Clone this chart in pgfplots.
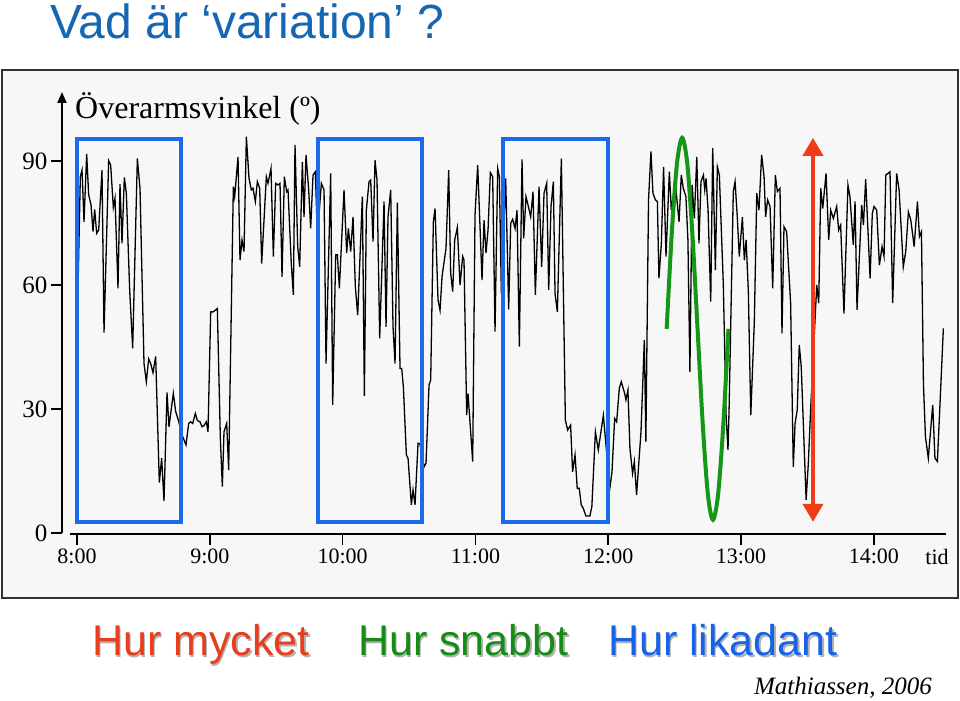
\documentclass[border=0pt]{standalone}
\usepackage{fontspec}
\setmainfont{Liberation Serif}
\newfontfamily\arialfont{Liberation Sans}
\usepackage{pgfplots}
\pgfplotsset{compat=1.18}
\usetikzlibrary{arrows.meta}
\definecolor{ttlblue}{RGB}{22,102,178}
\definecolor{boxblue}{RGB}{26,106,238}
\definecolor{grn}{RGB}{22,150,22}
\definecolor{redc}{RGB}{240,60,24}
\definecolor{bg}{RGB}{247,247,247}
\definecolor{txtred}{RGB}{232,62,28}
\definecolor{txtgreen}{RGB}{22,140,22}
\definecolor{txtblue}{RGB}{24,98,232}
\begin{document}
\begin{tikzpicture}[x=1bp,y=1bp]
\useasboundingbox (0,0) rectangle (960,701);
\draw[line width=2bp, draw=black!80, fill=bg] (2,103) rectangle (958,631);
\node[anchor=base west, inner sep=0, text=ttlblue, font=\arialfont\fontsize{48bp}{50bp}\selectfont] at (50,662) {Vad är ‘variation’ ?};
\begin{axis}[
  at={(62bp,167bp)}, anchor=south west, scale only axis,
  width=884bp, height=442bp,
  xmin=-6.78, xmax=392.6, ymin=-0.24, ymax=106.7,
  axis lines=left, axis line style={draw=none},
  clip=false,
  xtick={0,60,120,180,240,300,360},
  xticklabels={8:00,9:00,10:00,11:00,12:00,13:00,14:00},
  ytick={0,30,60,90},
  tick align=outside,
  major tick length=11bp,
  tick style={black, line width=1.5bp},
  /pgf/number format/assume math mode=true,
  xticklabel style={font=\fontsize{22bp}{24bp}\selectfont},
  yticklabel style={font=\fontsize{25bp}{27bp}\selectfont},
]
\addplot[black, line width=1.3bp] coordinates {
(0.3,55) (1.5,86.2) (2.26,87.8) (3.16,75.3) (4.37,91.7) (5.27,81.8) (6.33,79.4) (7.23,72.9) (7.98,78.3) (8.88,72.5)
(9.79,73.3) (11.29,87.8) (12.2,48.5) (14.3,90.1) (15.21,89.0) (16.41,78.8) (17.17,81.0) (18.52,59.2) (19.42,84.4) (20.33,70.1)
(21.38,86.0) (22.29,82.2) (23.79,58.8) (25.15,44.7) (27.26,90.6) (28.46,83.4) (30.27,41.0) (31.32,36.6) (32.38,42.1) (33.28,41.0)
(34.33,38.8) (35.54,42.7) (37.19,12.2) (38.25,18.1) (39.3,7.7) (40.66,34.0) (41.56,25.7) (43.52,33.8) (44.57,29.4) (45.78,27.3)
(47.74,23.3) (49.24,21.3) (50.45,26.5) (51.35,26.9) (52.26,26.5) (53.46,28.9) (54.37,27.2) (55.57,26.9) (56.48,25.7) (57.38,26.0)
(58.43,26.9) (59.19,24.5) (60.39,53.5) (61.45,53.5) (62.5,53.9) (63.4,54.3) (64.76,22.9) (65.66,11.2) (66.41,24.5) (67.62,26.5)
(68.52,15.2) (70.63,83.8) (71.23,81.4) (72.74,91.0) (73.64,66.0) (74.55,70.9) (75.45,68.1) (76.51,95.9) (77.71,85.8) (78.76,83.0)
(79.52,83.4) (80.57,80.2) (81.47,85.0) (82.53,83.4) (83.43,65.2) (85.54,86.2) (86.29,84.6) (87.65,88.2) (88.7,66.9) (89.76,84.6)
(90.81,84.2) (91.72,84.6) (92.62,62.0) (93.67,86.2) (94.73,82.6) (95.33,83.0) (96.84,64.8) (97.74,57.6) (98.49,93.9) (99.7,69.3)
(100.6,64.4) (101.81,89.8) (102.56,76.5) (103.46,91.5) (104.67,83.0) (105.57,73.7) (106.63,86.6) (107.68,87.4) (108.59,71.7) (110.39,84.6)
(111.6,83.0) (112.5,41.0) (114.61,87.0) (115.51,31.0) (116.87,67.3) (117.62,67.3) (118.53,59.2) (120.63,83.0) (121.84,67.7) (122.59,73.7)
(123.65,68.1) (124.7,76.5) (125.75,59.6) (126.81,52.7) (128.92,81.4) (129.82,33.2) (130.72,78.1) (131.93,85.0) (132.68,85.4) (133.74,70.5)
(134.64,90.2) (135.54,85.4) (136.75,47.1) (138.71,80.2) (139.61,49.9) (140.51,76.5) (141.72,83.0) (142.77,49.9) (143.68,41.0) (144.73,79.9)
(145.93,39.8) (146.69,39.8) (147.44,35.4) (148.8,18.9) (149.55,18.1) (151.06,6.8) (151.81,10.4) (152.71,6.8) (154.07,21.7) (154.97,21.5)
(156.78,16.0) (157.68,16.9) (159.04,35.8) (159.79,37.0) (160.99,75.3) (161.75,78.5) (163.1,56.4) (164.01,53.9) (164.91,62.0) (166.71,68.9)
(167.92,87.8) (168.82,62.8) (169.72,58.4) (170.63,70.9) (171.83,73.9) (173.04,60.0) (174.24,66.9) (174.84,66.0) (176.05,28.5) (176.65,33.8)
(178.76,17.3) (179.81,76.9) (181.02,89.0) (182.98,61.2) (183.88,75.7) (184.78,67.7) (185.69,73.3) (186.74,87.2) (187.79,86.2) (188.85,48.7)
(190.05,88.2) (190.81,86.2) (191.71,58.0) (193.67,85.8) (195.02,54.1) (195.93,74.9) (196.83,75.9) (197.89,73.7) (198.79,78.1) (199.84,45.1)
(201.05,90.4) (201.8,71.3) (202.85,81.4) (203.91,79.0) (204.96,76.5) (206.02,82.6) (207.07,57.6) (208.73,83.8) (209.93,64.4) (210.99,82.2)
(212.19,84.6) (213.1,58.8) (214.15,79.0) (215.2,85.0) (215.96,58.0) (217.01,53.5) (218.82,90.6) (220.63,27.3) (221.68,24.9) (223.0,26.1)
(223.9,14.8) (225.0,18.9) (226.0,10.8) (226.9,10.8) (227.8,6.8) (228.7,6.0) (229.9,4.1) (231.7,4.1) (232.6,6.4) (234.2,24.5)
(235.5,20.1) (237.8,28.5) (239.3,19.3) (240.8,11.2) (241.7,14.8) (242.9,27.7) (243.8,26.9) (245.0,35.0) (245.9,36.6) (247.4,33.8)
(248.0,32.2) (248.9,34.6) (249.8,20.5) (251.0,14.4) (251.8,17.3) (252.8,9.2) (254.8,24.5) (256.3,46.7) (257.0,22.1) (258.2,80.6)
(259.3,92.3) (260.2,82.2) (261.3,80.6) (262.2,80.2) (262.9,61.6) (264.0,70.1) (265.0,88.6) (266.1,66.9) (267.6,87.4) (268.5,78.1)
(269.7,82.6) (270.6,83.0) (272.0,75.3) (273.0,86.6) (273.9,83.4) (275.1,81.4) (276.0,70.9) (276.9,39.0) (277.9,84.2) (278.9,76.1)
(280.0,91.0) (281.0,70.1) (281.9,85.0) (283.0,86.6) (283.6,83.0) (284.2,85.8) (285.1,78.1) (286.3,56.0) (287.2,93.1) (288.4,63.6)
(289.3,88.6) (290.2,86.6) (292.0,60.0) (293.2,28.9) (294.1,20.1) (294.6,30.0) (296.5,82.6) (297.3,85.0) (298.3,76.5) (299.2,66.9)
(300.6,76.4) (301.5,66.0) (302.3,70.9) (303.3,58.4) (304.4,28.5) (306.0,51.1) (307.1,82.2) (308.1,78.1) (309.3,91.5) (310.4,86.2)
(311.1,76.5) (312.0,80.6) (313.1,79.0) (314.3,59.2) (315.5,86.6) (316.4,82.6) (317.6,83.4) (318.5,48.3) (319.4,74.1) (320.6,72.9)
(322.4,55.6) (323.6,16.0) (324.4,26.5) (325.4,29.8) (326.3,45.5) (327.2,40.2) (329.4,8.0) (330.4,16.9) (331.5,30.6) (334.2,60.0)
(335.1,55.6) (336.0,83.4) (336.9,78.5) (338.4,87.0) (339.6,70.9) (340.5,78.1) (341.7,76.1) (343.2,79.0) (344.1,73.3) (345.0,74.5)
(346.5,53.1) (348.3,84.2) (349.2,81.4) (350.7,69.7) (351.5,80.2) (352.4,54.0) (354.5,79.4) (355.3,74.5) (356.3,85.6) (358.3,61.6)
(359.3,77.3) (360.1,79.0) (361.3,78.1) (362.5,64.8) (363.7,69.3) (364.6,66.9) (365.4,86.6) (367.3,87.4) (368.5,55.6) (370.3,87.0)
(371.4,83.0) (373.3,64.4) (374.4,68.1) (375.6,77.7) (376.7,75.7) (378.2,69.3) (379.7,80.2) (380.6,71.7) (381.5,72.9) (382.4,36.2)
(383.3,23.3) (384.6,18.1) (386.6,31.0) (387.6,18.1) (388.7,17.3) (389.9,31.4) (391.4,49.5)
};
\addplot[boxblue, line width=4bp, line cap=rect, line join=miter] coordinates {(0,2.7) (47.0,2.7) (47.0,95.3) (0,95.3) (0,2.7)};
\addplot[boxblue, line width=4bp, line cap=rect, line join=miter] coordinates {(108.9,2.7) (156.0,2.7) (156.0,95.3) (108.9,95.3) (108.9,2.7)};
\addplot[boxblue, line width=4bp, line cap=rect, line join=miter] coordinates {(192.6,2.7) (240.0,2.7) (240.0,95.3) (192.6,95.3) (192.6,2.7)};
\addplot[grn, line width=4bp, smooth] coordinates {
(266.4,49.4) (268.7,72.5) (271.05,89.4) (273.4,95.6) (275.7,89.4) (278.0,72.5) (280.35,49.4)
(282.7,26.3) (285.0,9.4) (287.3,3.2) (289.65,9.4) (292.0,26.3) (294.3,49.4)};
\addplot[redc, line width=4bp, {Triangle[width=20bp,length=18bp]}-{Triangle[width=20bp,length=18bp]}] coordinates {(332.5,2.7) (332.5,95.6)};
\draw[line width=2bp] (axis cs:-3.16,-0.24) -- (axis cs:392.6,-0.24);
\draw[line width=2bp, -{Triangle[width=9bp,length=11bp]}] (axis cs:-6.78,0) -- (axis cs:-6.78,106.7);
\end{axis}
\node[anchor=base west, inner sep=0, font=\fontsize{32bp}{34bp}\selectfont] at (75,582) {Överarmsvinkel (º)};
\node[anchor=base, inner sep=0, font=\fontsize{22bp}{24bp}\selectfont] at (937,136) {tid};
\node[anchor=base west, inner sep=0, text=black!30, font=\arialfont\fontsize{43bp}{45bp}\selectfont] at (93.5,43.5) {Hur mycket};
\node[anchor=base west, inner sep=0, text=txtred, font=\arialfont\fontsize{43bp}{45bp}\selectfont] at (92,45) {Hur mycket};
\node[anchor=base west, inner sep=0, text=black!30, font=\arialfont\fontsize{43bp}{45bp}\selectfont] at (359.5,43.5) {Hur snabbt};
\node[anchor=base west, inner sep=0, text=txtgreen, font=\arialfont\fontsize{43bp}{45bp}\selectfont] at (358,45) {Hur snabbt};
\node[anchor=base west, inner sep=0, text=black!30, font=\arialfont\fontsize{43bp}{45bp}\selectfont] at (609.5,43.5) {Hur likadant};
\node[anchor=base west, inner sep=0, text=txtblue, font=\arialfont\fontsize{43bp}{45bp}\selectfont] at (608,45) {Hur likadant};
\node[anchor=base east, inner sep=0, font=\itshape\fontsize{25bp}{27bp}\selectfont] at (932,6) {Mathiassen, 2006};
\end{tikzpicture}
\end{document}
